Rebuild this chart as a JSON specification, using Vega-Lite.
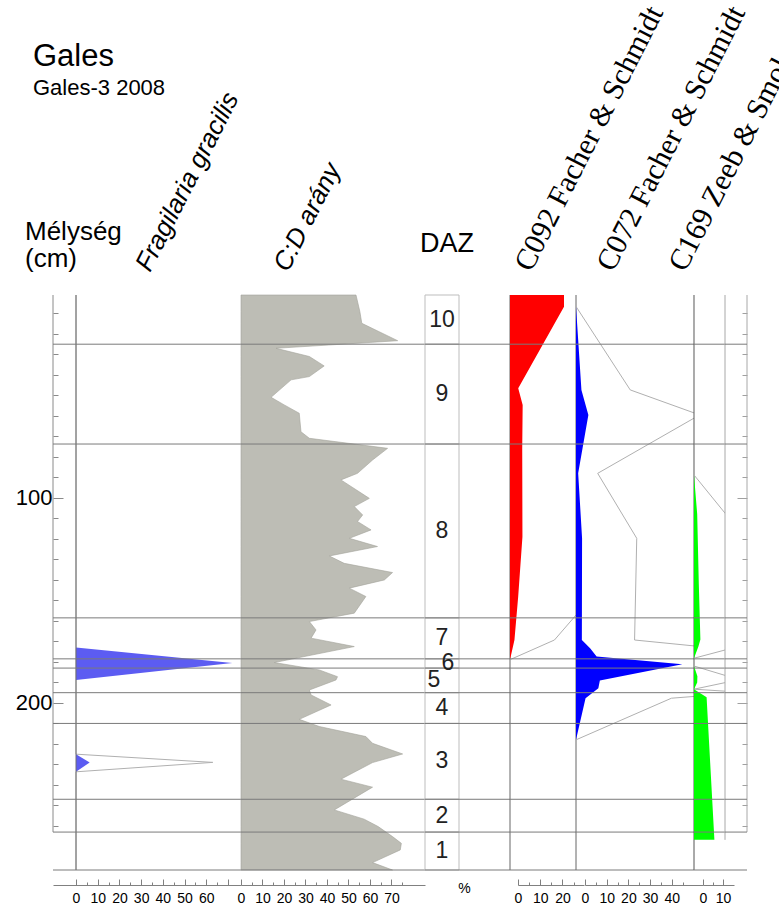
{
  "$schema": "https://vega.github.io/schema/vega-lite/v6.json",
  "background": "white",
  "padding": {"left": 15, "top": -8, "right": 0, "bottom": 0},
  "spacing": 0,
  "bounds": "flush",
  "config": {
    "view": {"stroke": null},
    "font": "Liberation Sans",
    "axis": {"grid": false, "labelFont": "Liberation Sans", "titleFont": "Liberation Sans", "labelColor": "#000", "titleColor": "#000", "titleFontWeight": "normal", "domainColor": "#808080", "tickColor": "#808080"}
  },
  "datasets": {
    "zones": [
      {"zone": 10, "top": 1, "bottom": 25},
      {"zone": 9, "top": 25, "bottom": 73.7},
      {"zone": 8, "top": 73.7, "bottom": 158.5},
      {"zone": 7, "top": 158.5, "bottom": 178.5},
      {"zone": 6, "top": 178.5, "bottom": 183},
      {"zone": 5, "top": 183, "bottom": 195},
      {"zone": 4, "top": 195, "bottom": 210},
      {"zone": 3, "top": 210, "bottom": 247},
      {"zone": 2, "top": 247, "bottom": 263},
      {"zone": 1, "top": 263, "bottom": 281.5}
    ],
    "frag": [
      {"depth": 1, "value": 0}, {"depth": 173, "value": 0}, {"depth": 180.5, "value": 72},
      {"depth": 188.8, "value": 0}, {"depth": 225, "value": 0}, {"depth": 229, "value": 6.3},
      {"depth": 233.6, "value": 0}, {"depth": 281.5, "value": 0}
    ],
    "cd": [
      {"depth": 1, "value": 53.5}, {"depth": 9.1, "value": 55.3}, {"depth": 14.8, "value": 56.2},
      {"depth": 23.3, "value": 72.9}, {"depth": 27, "value": 16.3}, {"depth": 31, "value": 31.8},
      {"depth": 35.6, "value": 38.7}, {"depth": 40.8, "value": 31.8}, {"depth": 42.4, "value": 23.3},
      {"depth": 50.9, "value": 14}, {"depth": 54.6, "value": 20.1}, {"depth": 58.7, "value": 27.1},
      {"depth": 67.7, "value": 27.9}, {"depth": 70.9, "value": 31.8}, {"depth": 75.8, "value": 68.2},
      {"depth": 81.5, "value": 61.2}, {"depth": 88, "value": 54.2}, {"depth": 91.2, "value": 46.5},
      {"depth": 100.2, "value": 59.7}, {"depth": 104.2, "value": 52.7}, {"depth": 108.3, "value": 56.6},
      {"depth": 111.5, "value": 54.2}, {"depth": 115.6, "value": 60.5}, {"depth": 119.7, "value": 50.4},
      {"depth": 123.7, "value": 63.5}, {"depth": 128.3, "value": 41.1}, {"depth": 131.9, "value": 48},
      {"depth": 136.4, "value": 70.5}, {"depth": 140, "value": 66.7}, {"depth": 144, "value": 50.4},
      {"depth": 148.1, "value": 58.1}, {"depth": 156.2, "value": 52.7}, {"depth": 160.3, "value": 31.8},
      {"depth": 164.4, "value": 34.9}, {"depth": 168.4, "value": 32.6}, {"depth": 172.5, "value": 52.7},
      {"depth": 180.3, "value": 15.5}, {"depth": 183.9, "value": 36.4}, {"depth": 187.2, "value": 44.9},
      {"depth": 188.8, "value": 44.2}, {"depth": 193.7, "value": 31.8}, {"depth": 196.1, "value": 32.6},
      {"depth": 201, "value": 41.9}, {"depth": 208, "value": 27.1}, {"depth": 211.5, "value": 36.4},
      {"depth": 216.4, "value": 58.1}, {"depth": 219.7, "value": 61.2}, {"depth": 224.9, "value": 75.2},
      {"depth": 229.1, "value": 61.2}, {"depth": 237.2, "value": 46.5}, {"depth": 241.1, "value": 61.2},
      {"depth": 252.2, "value": 43.4}, {"depth": 256.7, "value": 57.3}, {"depth": 260.3, "value": 63.8},
      {"depth": 265.2, "value": 70.5}, {"depth": 268.5, "value": 74.6}, {"depth": 271.7, "value": 74.1},
      {"depth": 277.9, "value": 61.2}, {"depth": 281.5, "value": 70.5}
    ],
    "c092": [
      {"depth": 1, "value": 24.3}, {"depth": 6.7, "value": 24.3}, {"depth": 46.5, "value": 3.7},
      {"depth": 54.6, "value": 5.7}, {"depth": 76, "value": 5.5}, {"depth": 118.9, "value": 5.6},
      {"depth": 148, "value": 3.7}, {"depth": 169.3, "value": 2.0}, {"depth": 178.9, "value": 0}
    ],
    "c072": [
      {"depth": 1, "value": 0}, {"depth": 6.6, "value": 0}, {"depth": 47.3, "value": 2.5},
      {"depth": 59.5, "value": 5.7}, {"depth": 88, "value": 1.0}, {"depth": 119.7, "value": 2.8},
      {"depth": 169.3, "value": 2.7}, {"depth": 173.3, "value": 6.5}, {"depth": 177.4, "value": 9.5},
      {"depth": 181.1, "value": 49}, {"depth": 189, "value": 11}, {"depth": 192.8, "value": 10.3},
      {"depth": 197.7, "value": 4.4}, {"depth": 218, "value": 0}
    ],
    "c169": [
      {"depth": 1, "value": 0}, {"depth": 88.8, "value": 0}, {"depth": 108, "value": 1.6},
      {"depth": 142, "value": 2.4}, {"depth": 169, "value": 3.2}, {"depth": 172.5, "value": 2.2},
      {"depth": 178.2, "value": 0}, {"depth": 182, "value": 0}, {"depth": 187, "value": 1.7},
      {"depth": 190, "value": 1.6}, {"depth": 193.3, "value": 0}, {"depth": 197.2, "value": 6.3},
      {"depth": 266.8, "value": 10.2}
    ]
  },
  "hconcat": [
    {
      "width": 188, "height": 575,
      "resolve": {"scale": {"x": "independent"}, "axis": {"y": "independent"}},
      "layer": [
        {
          "data": {"name": "frag"},
          "transform": [{"filter": "datum.value < 20"}],
          "mark": {"type": "line", "color": "#b0b0b0", "strokeWidth": 1, "clip": true},
          "encoding": {
            "x": {"field": "value", "type": "quantitative", "scale": {"domain": [-1.06, 7.6], "nice": false, "zero": false}, "axis": null},
            "y": {"field": "depth", "type": "quantitative", "scale": {"domain": [1, 281.5], "reverse": true, "nice": false, "zero": false}, "axis": null},
            "order": {"field": "depth", "type": "quantitative"}
          }
        },
        {
          "data": {"name": "frag"},
          "mark": {"type": "area", "orient": "horizontal", "color": "#5c5cf2"},
          "encoding": {
            "x": {"field": "value", "type": "quantitative", "stack": null, "scale": {"domain": [-10.6, 76], "nice": false, "zero": false},
              "axis": {"orient": "bottom", "values": [0, 5, 10, 15, 20, 25, 30, 35, 40, 45, 50, 55, 60, 65, 70], "labelExpr": "datum.value % 10 === 0 && datum.value < 70 ? datum.label : ''", "tickSize": {"condition": {"test": "datum.value % 10 === 0", "value": -6}, "value": -3}, "offset": 15, "labelPadding": 12, "labelFontSize": 14, "labelOverlap": false, "labelFlush": false, "labelBound": false,
                "title": "Fragilaria gracilis", "titleAngle": -63, "titleAlign": "left", "titleBaseline": "alphabetic", "titleX": 96.5, "titleY": -612.5, "titleFontSize": 26, "titleFontStyle": "italic"}},
            "y": {"field": "depth", "type": "quantitative", "scale": {"domain": [1, 281.5], "reverse": true, "nice": false, "zero": false}, "axis": null}
          }
        },
        {
          "data": {"values": [{}]},
          "mark": {"type": "rule", "color": "#6e6e6e"},
          "encoding": {
            "x": {"datum": 0, "type": "quantitative", "scale": {"domain": [-10.6, 76], "nice": false, "zero": false},
              "axis": {"orient": "top", "domain": false, "ticks": false, "labels": false, "title": "Gales", "titleAngle": 0, "titleAlign": "left", "titleBaseline": "alphabetic", "titleX": -20.5, "titleY": -229.5, "titleFontSize": 31}}
          }
        },
        {
          "data": {"name": "zones"},
          "mark": {"type": "rule", "color": "#8a8a8a"},
          "encoding": {
            "x": {"datum": -10.6, "type": "quantitative", "scale": {"domain": [-10.6, 76], "nice": false, "zero": false},
              "axis": {"orient": "top", "domain": false, "ticks": false, "labels": false, "title": "Gales-3 2008", "titleAngle": 0, "titleAlign": "left", "titleBaseline": "alphabetic", "titleX": -20.5, "titleY": -200.5, "titleFontSize": 22}},
            "y": {"aggregate": "min", "field": "top", "type": "quantitative", "scale": {"domain": [1, 281.5], "reverse": true, "nice": false, "zero": false},
              "axis": {"orient": "left", "values": [100, 200], "tickSize": -10, "labelPadding": 11, "labelFontSize": 22, "domain": false, "tickColor": "#8a8a8a", "labelOverlap": false,
                "title": ["Mélység", "(cm)"], "titleAngle": 0, "titleAlign": "left", "titleBaseline": "alphabetic", "titleX": -28.5, "titleY": -55.5, "titleFontSize": 26, "titleLineHeight": 27}},
            "y2": {"aggregate": "max", "field": "top"}
          }
        },
        {
          "data": {"name": "zones"},
          "mark": {"type": "rule", "color": "#7a7a7a"},
          "encoding": {
            "y": {"field": "bottom", "type": "quantitative", "scale": {"domain": [1, 281.5], "reverse": true, "nice": false, "zero": false},
              "axis": {"orient": "left", "values": [10, 20, 30, 40, 50, 60, 70, 80, 90, 110, 120, 130, 140, 150, 160, 170, 180, 190, 210, 220, 230, 240, 250, 260], "labels": false, "tickSize": -5, "domain": false, "tickColor": "#8a8a8a", "title": null}}
          }
        }
      ]
    },
    {
      "width": 184, "height": 575,
      "layer": [
        {
          "data": {"name": "cd"},
          "mark": {"type": "area", "orient": "horizontal", "fill": "#bdbdb5", "stroke": "#a3a39b", "strokeWidth": 0.6},
          "encoding": {
            "x": {"field": "value", "type": "quantitative", "stack": null, "scale": {"domain": [0, 85.6], "nice": false},
              "axis": {"orient": "bottom", "values": [0, 5, 10, 15, 20, 25, 30, 35, 40, 45, 50, 55, 60, 65, 70, 75], "labelExpr": "datum.value % 10 === 0 ? datum.label : ''", "tickSize": {"condition": {"test": "datum.value % 10 === 0", "value": -6}, "value": -3}, "offset": 15, "labelPadding": 12, "labelFontSize": 14, "labelOverlap": false, "labelFlush": false, "labelBound": false,
                "title": "C:D arány", "titleAngle": -63, "titleAlign": "left", "titleBaseline": "alphabetic", "titleX": 46.5, "titleY": -612.5, "titleFontSize": 26, "titleFontStyle": "italic"}},
            "y": {"field": "depth", "type": "quantitative", "scale": {"domain": [1, 281.5], "reverse": true, "nice": false, "zero": false}, "axis": null}
          }
        },
        {
          "data": {"name": "zones"},
          "mark": {"type": "rule", "color": "#7a7a7a"},
          "encoding": {
            "y": {"field": "bottom", "type": "quantitative", "scale": {"domain": [1, 281.5], "reverse": true, "nice": false, "zero": false}, "axis": null}
          }
        }
      ]
    },
    {
      "width": 85, "height": 575,
      "layer": [
        {
          "data": {"name": "zones"},
          "mark": {"type": "rect", "filled": false, "color": "#bdbdbd", "strokeWidth": 1},
          "encoding": {
            "x": {"datum": 0, "type": "quantitative", "scale": {"domain": [0, 2.5], "nice": false, "zero": false},
              "axis": {"orient": "bottom", "domain": false, "ticks": false, "labels": false, "title": "%", "titleX": 39, "titleY": 18, "titleAlign": "center", "titleBaseline": "middle", "titleFontSize": 14, "offset": 0}},
            "x2": {"datum": 1},
            "y": {"field": "top", "type": "quantitative", "scale": {"domain": [1, 281.5], "reverse": true, "nice": false, "zero": false},
              "axis": {"orient": "left", "domain": false, "ticks": false, "labels": false, "title": "DAZ", "titleAngle": 0, "titleAlign": "left", "titleBaseline": "alphabetic", "titleX": -5.5, "titleY": -43.5, "titleFontSize": 27}},
            "y2": {"field": "bottom"}
          }
        },
        {
          "data": {"name": "zones"},
          "mark": {"type": "rule", "color": "#7a7a7a"},
          "encoding": {
            "y": {"field": "bottom", "type": "quantitative", "scale": {"domain": [1, 281.5], "reverse": true, "nice": false, "zero": false}}
          }
        },
        {
          "data": {"name": "zones"},
          "transform": [{"calculate": "(datum.top + datum.bottom) / 2", "as": "mid"}, {"filter": "datum.zone !== 5 && datum.zone !== 6"}],
          "mark": {"type": "text", "fontSize": 23, "font": "Liberation Sans", "color": "#222", "baseline": "middle", "align": "center"},
          "encoding": {
            "text": {"field": "zone", "type": "nominal"},
            "x": {"datum": 0.5, "type": "quantitative"},
            "y": {"field": "mid", "type": "quantitative", "scale": {"domain": [1, 281.5], "reverse": true, "nice": false, "zero": false}}
          }
        },
        {
          "data": {"name": "zones"},
          "transform": [{"calculate": "(datum.top + datum.bottom) / 2", "as": "mid"}, {"filter": "datum.zone === 6"}],
          "mark": {"type": "text", "fontSize": 23, "font": "Liberation Sans", "color": "#222", "baseline": "middle", "align": "center", "dx": 6},
          "encoding": {
            "text": {"field": "zone", "type": "nominal"},
            "x": {"datum": 0.5, "type": "quantitative"},
            "y": {"field": "mid", "type": "quantitative", "scale": {"domain": [1, 281.5], "reverse": true, "nice": false, "zero": false}}
          }
        },
        {
          "data": {"name": "zones"},
          "transform": [{"calculate": "(datum.top + datum.bottom) / 2", "as": "mid"}, {"filter": "datum.zone === 5"}],
          "mark": {"type": "text", "fontSize": 23, "font": "Liberation Sans", "color": "#222", "baseline": "middle", "align": "center", "dx": -8},
          "encoding": {
            "text": {"field": "zone", "type": "nominal"},
            "x": {"datum": 0.5, "type": "quantitative"},
            "y": {"field": "mid", "type": "quantitative", "scale": {"domain": [1, 281.5], "reverse": true, "nice": false, "zero": false}}
          }
        }
      ]
    },
    {
      "width": 66, "height": 575,
      "resolve": {"scale": {"x": "independent"}},
      "layer": [
        {
          "data": {"values": [{}]},
          "mark": {"type": "rule", "color": "#666"},
          "encoding": {"x": {"datum": 0, "type": "quantitative", "scale": {"domain": [0, 29.7], "nice": false}, "axis": null}}
        },
        {
          "data": {"name": "c092"},
          "mark": {"type": "line", "color": "#b0b0b0", "strokeWidth": 1, "clip": true},
          "encoding": {
            "x": {"field": "value", "type": "quantitative", "scale": {"domain": [0, 2.97], "nice": false}, "axis": null},
            "y": {"field": "depth", "type": "quantitative", "scale": {"domain": [1, 281.5], "reverse": true, "nice": false, "zero": false}, "axis": null},
            "order": {"field": "depth", "type": "quantitative"}
          }
        },
        {
          "data": {"name": "c092"},
          "mark": {"type": "area", "orient": "horizontal", "color": "#ff0000"},
          "encoding": {
            "x": {"field": "value", "type": "quantitative", "stack": null, "scale": {"domain": [0, 29.7], "nice": false},
              "axis": {"orient": "bottom", "values": [0, 5, 10, 15, 20, 25], "labelExpr": "datum.value % 10 === 0 ? datum.label : ''", "tickSize": {"condition": {"test": "datum.value % 10 === 0", "value": -6}, "value": -3}, "translate": 8.5, "offset": 7, "labelPadding": 12, "labelFontSize": 14, "labelOverlap": false, "labelFlush": false, "labelBound": false,
                "title": "C092 Facher & Schmidt", "titleAngle": -63, "titleAlign": "left", "titleBaseline": "alphabetic", "titleX": 12.5, "titleY": -612.5, "titleFont": "Liberation Serif", "titleFontSize": 30, "titleFontStyle": "normal"}},
            "y": {"field": "depth", "type": "quantitative", "scale": {"domain": [1, 281.5], "reverse": true, "nice": false, "zero": false}, "axis": null}
          }
        },
        {
          "data": {"name": "zones"},
          "mark": {"type": "rule", "color": "#7a7a7a"},
          "encoding": {
            "y": {"field": "bottom", "type": "quantitative", "scale": {"domain": [1, 281.5], "reverse": true, "nice": false, "zero": false}, "axis": null}
          }
        }
      ]
    },
    {
      "width": 118, "height": 575,
      "resolve": {"scale": {"x": "independent"}},
      "layer": [
        {
          "data": {"values": [{}]},
          "mark": {"type": "rule", "color": "#666"},
          "encoding": {"x": {"datum": 0, "type": "quantitative", "scale": {"domain": [0, 54.4], "nice": false}, "axis": null}}
        },
        {
          "data": {"name": "c072"},
          "mark": {"type": "line", "color": "#b0b0b0", "strokeWidth": 1, "clip": true},
          "encoding": {
            "x": {"field": "value", "type": "quantitative", "scale": {"domain": [0, 5.44], "nice": false}, "axis": null},
            "y": {"field": "depth", "type": "quantitative", "scale": {"domain": [1, 281.5], "reverse": true, "nice": false, "zero": false}, "axis": null},
            "order": {"field": "depth", "type": "quantitative"}
          }
        },
        {
          "data": {"name": "c072"},
          "mark": {"type": "area", "orient": "horizontal", "color": "#0000ff"},
          "encoding": {
            "x": {"field": "value", "type": "quantitative", "stack": null, "scale": {"domain": [0, 54.4], "nice": false},
              "axis": {"orient": "bottom", "values": [0, 5, 10, 15, 20, 25, 30, 35, 40, 45], "labelExpr": "datum.value % 10 === 0 ? datum.label : ''", "tickSize": {"condition": {"test": "datum.value % 10 === 0", "value": -6}, "value": -3}, "translate": 9.5, "offset": 6, "labelPadding": 12, "labelFontSize": 14, "labelOverlap": false, "labelFlush": false, "labelBound": false,
                "title": "C072 Facher & Schmidt", "titleAngle": -63, "titleAlign": "left", "titleBaseline": "alphabetic", "titleX": 27.5, "titleY": -612.5, "titleFont": "Liberation Serif", "titleFontSize": 30, "titleFontStyle": "normal"}},
            "y": {"field": "depth", "type": "quantitative", "scale": {"domain": [1, 281.5], "reverse": true, "nice": false, "zero": false}, "axis": null}
          }
        },
        {
          "data": {"name": "zones"},
          "mark": {"type": "rule", "color": "#7a7a7a"},
          "encoding": {
            "y": {"field": "bottom", "type": "quantitative", "scale": {"domain": [1, 281.5], "reverse": true, "nice": false, "zero": false}, "axis": null}
          }
        }
      ]
    },
    {
      "width": 31, "height": 575,
      "resolve": {"scale": {"x": "independent"}},
      "layer": [
        {
          "data": {"values": [{}]},
          "mark": {"type": "rule", "color": "#555"},
          "encoding": {"x": {"datum": 0, "type": "quantitative", "scale": {"domain": [0, 15.5], "nice": false}, "axis": null}}
        },
        {
          "data": {"name": "c169"},
          "mark": {"type": "line", "color": "#b0b0b0", "strokeWidth": 1, "clip": true},
          "encoding": {
            "x": {"field": "value", "type": "quantitative", "scale": {"domain": [0, 1.55], "nice": false}, "axis": null},
            "y": {"field": "depth", "type": "quantitative", "scale": {"domain": [1, 281.5], "reverse": true, "nice": false, "zero": false}, "axis": null},
            "order": {"field": "depth", "type": "quantitative"}
          }
        },
        {
          "data": {"name": "c169"},
          "mark": {"type": "area", "orient": "horizontal", "color": "#00ff00"},
          "encoding": {
            "x": {"field": "value", "type": "quantitative", "stack": null, "scale": {"domain": [0, 15.5], "nice": false},
              "axis": {"orient": "bottom", "values": [0, 5, 10], "labelExpr": "datum.value % 10 === 0 ? datum.label : ''", "tickSize": {"condition": {"test": "datum.value % 10 === 0", "value": -6}, "value": -3}, "translate": 9.5, "offset": 6, "labelPadding": 12, "labelFontSize": 14, "labelOverlap": false, "labelFlush": false, "labelBound": false,
                "title": "C169 Zeeb & Smol", "titleAngle": -63, "titleAlign": "left", "titleBaseline": "alphabetic", "titleX": -18.5, "titleY": -612.5, "titleFont": "Liberation Serif", "titleFontSize": 30, "titleFontStyle": "normal"}},
            "y": {"field": "depth", "type": "quantitative", "scale": {"domain": [1, 281.5], "reverse": true, "nice": false, "zero": false}, "axis": null}
          }
        },
        {
          "data": {"name": "zones"},
          "mark": {"type": "rule", "color": "#7a7a7a"},
          "encoding": {
            "y": {"field": "bottom", "type": "quantitative", "scale": {"domain": [1, 281.5], "reverse": true, "nice": false, "zero": false}, "axis": null}
          }
        }
      ]
    },
    {
      "width": 22, "height": 575,
      "resolve": {"axis": {"y": "independent"}},
      "layer": [
        {
          "data": {"name": "c169"},
          "mark": {"type": "rule", "color": "#a8a8a8"},
          "encoding": {
            "x": {"datum": 0, "type": "quantitative", "scale": {"domain": [0, 1], "nice": false, "zero": false}, "axis": null},
            "y": {"aggregate": "min", "field": "depth", "type": "quantitative", "scale": {"domain": [1, 281.5], "reverse": true, "nice": false, "zero": false}, "axis": null},
            "y2": {"aggregate": "max", "field": "depth"}
          }
        },
        {
          "data": {"name": "zones"},
          "mark": {"type": "rule", "color": "#a8a8a8"},
          "encoding": {
            "x": {"datum": 1, "type": "quantitative", "scale": {"domain": [0, 1], "nice": false, "zero": false}, "axis": null},
            "y": {"aggregate": "min", "field": "top", "type": "quantitative", "scale": {"domain": [1, 281.5], "reverse": true, "nice": false, "zero": false},
              "axis": {"orient": "right", "values": [100, 200], "labels": false, "tickSize": -10, "domain": false, "tickColor": "#a0a0a0", "title": null}},
            "y2": {"aggregate": "max", "field": "top"}
          }
        },
        {
          "data": {"name": "zones"},
          "mark": {"type": "rule", "color": "#7a7a7a"},
          "encoding": {
            "y": {"field": "bottom", "type": "quantitative", "scale": {"domain": [1, 281.5], "reverse": true, "nice": false, "zero": false},
              "axis": {"orient": "right", "values": [10, 20, 30, 40, 50, 60, 70, 80, 90, 110, 120, 130, 140, 150, 160, 170, 180, 190, 210, 220, 230, 240, 250, 260], "labels": false, "tickSize": -5, "domain": false, "tickColor": "#a0a0a0", "title": null}}
          }
        }
      ]
    }
  ]
}
